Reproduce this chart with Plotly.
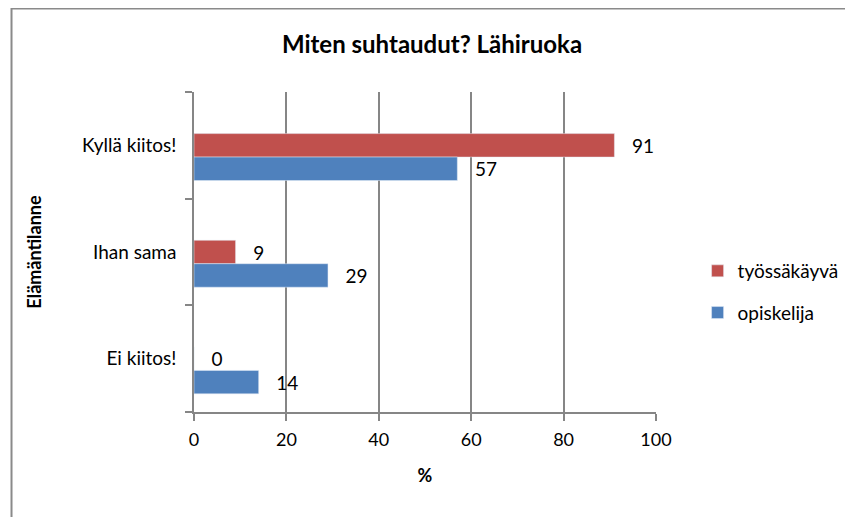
import plotly.graph_objects as go

# Kategoriat ja arvot (%)
categories = ["Ei kiitos!", "Ihan sama", "Kyllä kiitos!"]
tyossakayva = [0, 9, 91]
opiskelija = [14, 29, 57]

RED = "#C0504D"
BLUE = "#4F81BD"
GRID = "#868686"
FONT = "Lato, Open Sans, sans-serif"

fig = go.Figure()

fig.add_trace(go.Bar(
    y=categories, x=tyossakayva, name="työssäkäyvä", orientation="h",
    marker=dict(color=RED), width=0.22, offset=-0.11,
    texttemplate="\u00a0\u00a0\u00a0%{x}", textposition="outside",
    textfont=dict(size=19, color="black", family=FONT),
    legendgroup="a", cliponaxis=False,
))
fig.add_trace(go.Bar(
    y=categories, x=opiskelija, name="opiskelija", orientation="h",
    marker=dict(color=BLUE), width=0.22, offset=-0.33,
    texttemplate="\u00a0\u00a0\u00a0%{x}", textposition="outside",
    textfont=dict(size=19, color="black", family=FONT),
    legendgroup="b", cliponaxis=False,
))

# Kaavion reunus (sivun marginaali 8px huomioitu)
fig.add_shape(type="rect", xref="paper", yref="paper",
              x0=-0.395, x1=1.5, y0=-0.5, y1=1.261,
              line=dict(color="#8a8a8a", width=2), layer="below")

fig.update_layout(
    width=848, height=509,
    margin=dict(l=186, r=194, t=84, b=105),
    plot_bgcolor="white", paper_bgcolor="white",
    font=dict(family=FONT, size=19, color="black"),
    title=dict(text="<b>Miten suhtaudut? Lähiruoka</b>", x=0.5, xanchor="center",
               y=1 - 37 / 509, yanchor="middle", font=dict(size=24)),
    showlegend=True,
    legend=dict(x=1.09, xanchor="left", y=0.375, yanchor="middle",
                traceorder="grouped", tracegroupgap=14,
                font=dict(size=19), bgcolor="rgba(0,0,0,0)"),
    xaxis=dict(range=[0, 100], dtick=20, showgrid=True, gridcolor=GRID, gridwidth=1.5,
               showline=True, linecolor=GRID, linewidth=1.5,
               ticks="outside", ticklen=7, tickcolor=GRID, tickwidth=1.5,
               ticklabelstandoff=4,
               zeroline=False, tickfont=dict(size=18),
               title=dict(text="<b>%</b>", standoff=20, font=dict(size=18))),
    yaxis=dict(type="category", categoryorder="array", categoryarray=categories,
               tickson="boundaries", ticks="outside", ticklen=7, tickcolor=GRID, tickwidth=1.5,
               ticklabelstandoff=12,
               showline=True, linecolor=GRID, linewidth=1.5, showgrid=False,
               title=dict(text="<b>Elämäntilanne</b>", standoff=36, font=dict(size=18))),
)

fig.write_html("out.html")
